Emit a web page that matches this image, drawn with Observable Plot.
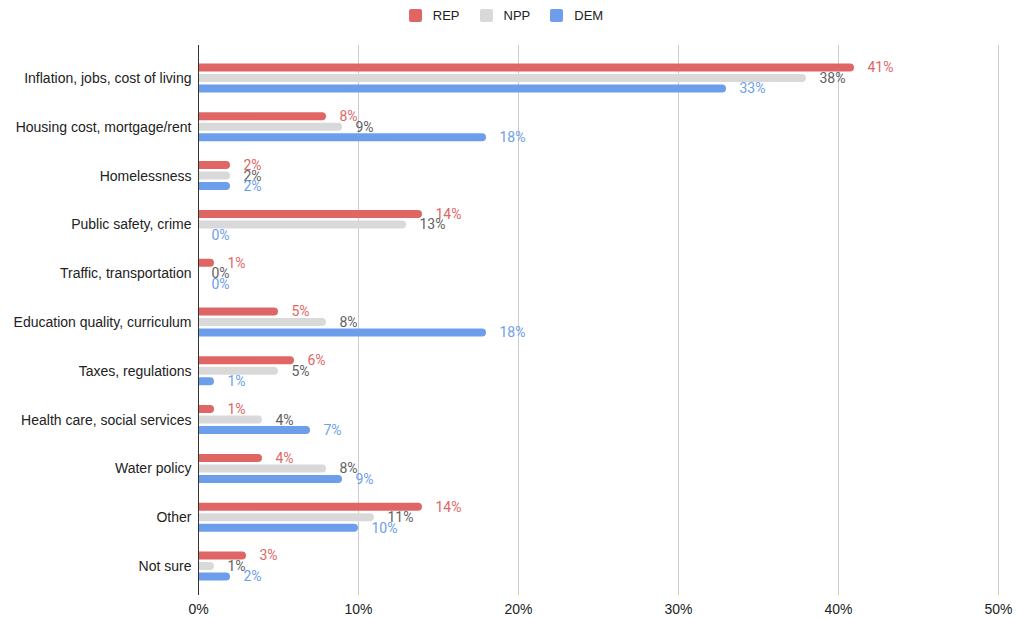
<!DOCTYPE html>
<html>
<head>
<meta charset="utf-8">
<script src="https://cdn.jsdelivr.net/npm/d3@7"></script>
<script src="https://cdn.jsdelivr.net/npm/@observablehq/plot@0.6"></script>
<style>
  html, body { margin: 0; padding: 0; background: #fff; }
  body { font-family: "Liberation Sans", Arial, sans-serif; width: 1023px; height: 618px; overflow: hidden; }
  #legend { height: 30px; display: flex; justify-content: center; align-items: center; padding-right: 11px; font-size: 13px; color: #222; }
  .item { display: flex; align-items: center; margin: 0 10px; }
  .sw { width: 13px; height: 13px; border-radius: 2px; margin-right: 11px; }
  #chart svg { display: block; }
</style>
</head>
<body>
<div id="legend"></div>
<div id="chart"></div>
<script>
const categories = [
  "Inflation, jobs, cost of living",
  "Housing cost, mortgage/rent",
  "Homelessness",
  "Public safety, crime",
  "Traffic, transportation",
  "Education quality, curriculum",
  "Taxes, regulations",
  "Health care, social services",
  "Water policy",
  "Other",
  "Not sure"
];
const rep = [41, 8, 2, 14, 1, 5, 6, 1, 4, 14, 3];
const npp = [38, 9, 2, 13, 0, 8, 5, 4, 8, 11, 1];
const dem = [33, 18, 2, 0, 0, 18, 1, 7, 9, 10, 2];
const seriesNames = ["REP", "NPP", "DEM"];
const seriesValues = [rep, npp, dem];
const barColors = ["#e06666", "#d9d9d9", "#6d9eeb"];
const labelColors = ["#e06666", "#5f5f5f", "#6d9eeb"];
const xTicks = [0, 10, 20, 30, 40, 50];

// legend
const legend = document.getElementById("legend");
seriesNames.forEach((s, i) => {
  const it = document.createElement("div");
  it.className = "item";
  it.innerHTML = `<span class="sw" style="background:${barColors[i]}"></span><span>${s}</span>`;
  legend.appendChild(it);
});

const rows = categories.flatMap((c, i) =>
  seriesNames.map((s, j) => ({category: c, series: s, value: seriesValues[j][i]}))
);

const yRange = [23.6, 560.4];
const step = (yRange[1] - yRange[0]) / categories.length;
const offsets = [-10.5, 0, 10.5];
const barH = 8;

const marks = [
  Plot.ruleX(xTicks.filter(t => t > 0), {stroke: "#cccccc", strokeWidth: 1})
];
seriesNames.forEach((s, j) => {
  const top = step / 2 + offsets[j] - barH / 2;
  const data = rows.filter(d => d.series === s);
  marks.push(Plot.barX(data, {
    x1: 0, x2: "value", y: "category",
    fill: barColors[j], rx: 4,
    insetTop: top, insetBottom: step - top - barH,
    insetLeft: -6, clip: true
  }));
});
marks.push(Plot.ruleX([0], {stroke: "#333", strokeWidth: 1}));
seriesNames.forEach((s, j) => {
  const data = rows.filter(d => d.series === s);
  marks.push(Plot.text(data, {
    x: "value", y: "category", text: d => d.value + "%",
    dx: 13, dy: offsets[j], textAnchor: "start",
    fill: labelColors[j], fontSize: 14, fontFamily: "Roboto, 'Liberation Sans', Arial, sans-serif"
  }));
});

const plot = Plot.plot({
  width: 1023,
  height: 588,
  marginLeft: 198,
  marginRight: 25,
  marginTop: 15,
  marginBottom: 23,
  style: {fontFamily: "'Liberation Sans', Arial, sans-serif", fontSize: "14px", color: "#222", background: "#fff"},
  x: {domain: [0, 50], ticks: xTicks, tickFormat: d => d + "%", tickSize: 0, tickPadding: 9, label: null},
  y: {domain: categories, range: yRange, padding: 0, round: false, tickSize: 0, tickPadding: 7, label: null},
  marks
});
document.getElementById("chart").appendChild(plot);
</script>
</body>
</html>
